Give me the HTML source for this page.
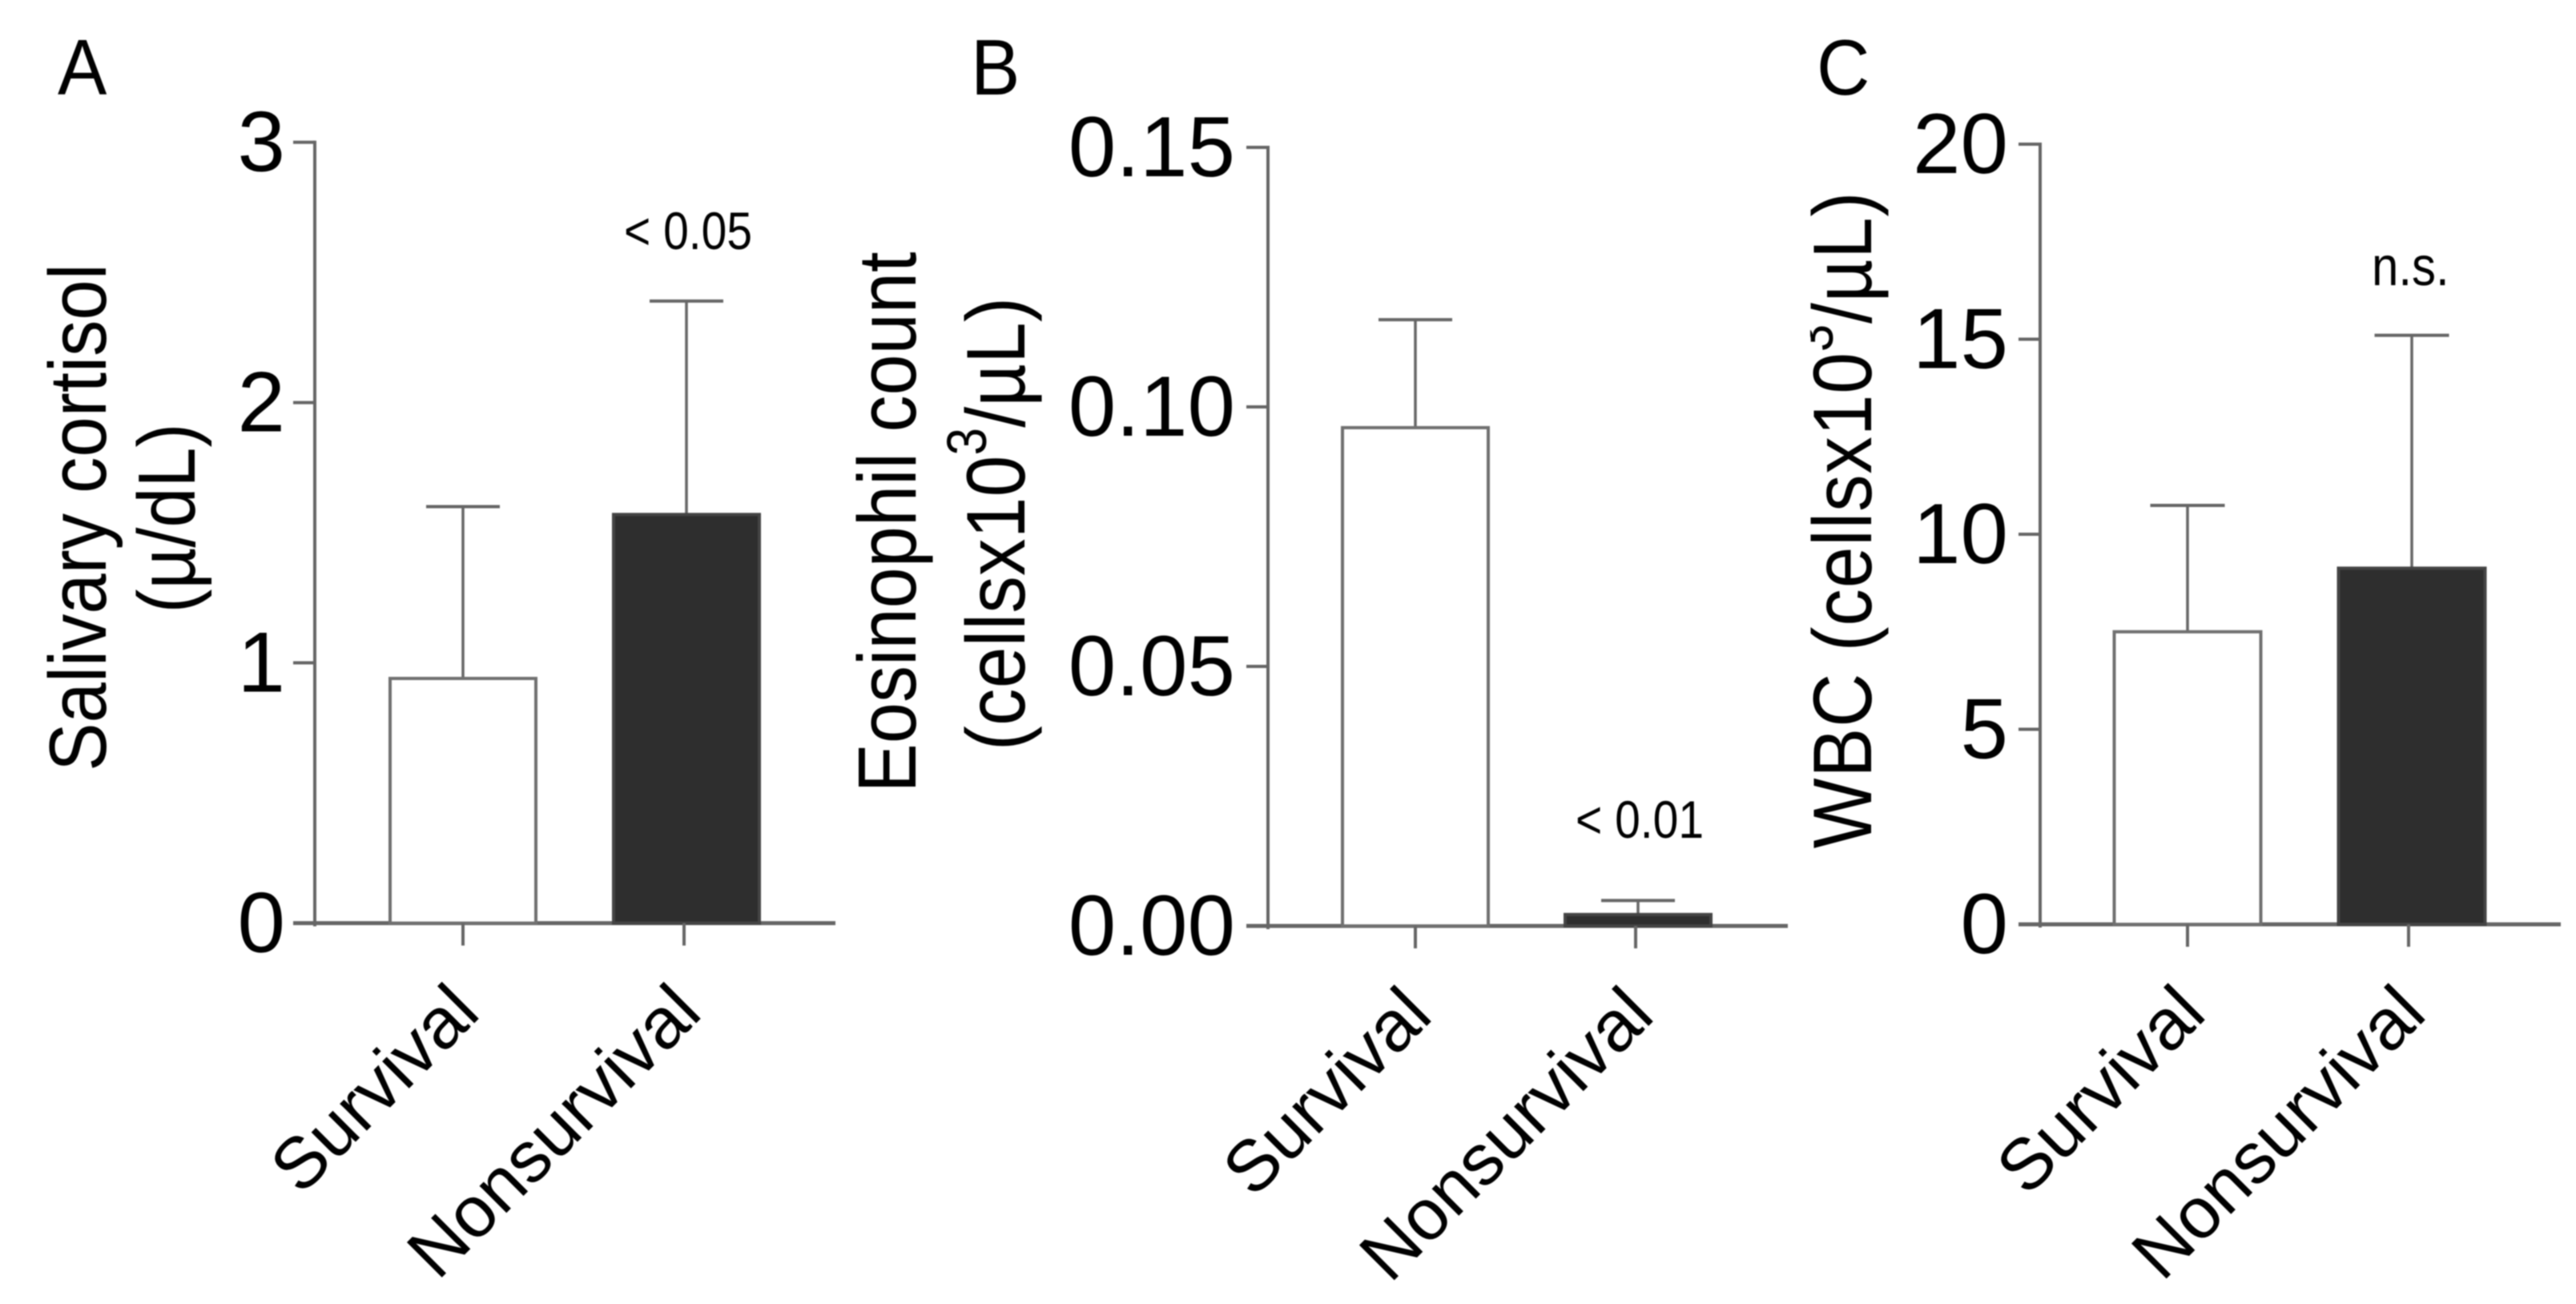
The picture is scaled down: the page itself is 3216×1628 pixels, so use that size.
<!DOCTYPE html>
<html lang="en">
<head>
<meta charset="utf-8">
<title>Salivary cortisol, eosinophil count and WBC by survival</title>
<style>
html,body{margin:0;padding:0;background:#fff;}
body{width:3216px;height:1628px;overflow:hidden;}
svg{display:block;filter:blur(0.9px);}
text{font-family:"Liberation Sans",Arial,sans-serif;fill:#000;}
</style>
</head>
<body>
<svg id="figure" xmlns="http://www.w3.org/2000/svg" width="3216" height="1628" viewBox="0 0 3216 1628"></svg>
<script>
// ---- data ----
const categories = ["Survival", "Nonsurvival"];

const cortisolMeans = [0.94, 1.57];
const cortisolErrors = [0.66, 0.82];
const cortisolTicks = ["0", "1", "2", "3"];
const cortisolMax = 3;

const eosinophilMeans = [0.096, 0.0022];
const eosinophilErrors = [0.0208, 0.0027];
const eosinophilTicks = ["0.00", "0.05", "0.10", "0.15"];
const eosinophilMax = 0.15;

const wbcMeans = [7.5, 9.13];
const wbcErrors = [3.24, 5.97];
const wbcTicks = ["0", "5", "10", "15", "20"];
const wbcMax = 20;

// ---- drawing ----
const NS = "http://www.w3.org/2000/svg";
const LINE = "#666";
const DARK = "#2e2e2e";
const svg = document.getElementById("figure");

function line(parent, name, x1, y1, x2, y2, width) {
  const el = document.createElementNS(NS, "line");
  el.setAttribute("x1", x1);
  el.setAttribute("y1", y1);
  el.setAttribute("x2", x2);
  el.setAttribute("y2", y2);
  el.setAttribute("stroke", LINE);
  el.setAttribute("stroke-width", width || 4);
  
  
  parent.appendChild(el);
  return el;
}

function label(parent, name, content, x, y, size, anchor, rotate, sx, sy, spacing) {
  const el = document.createElementNS(NS, "text");
  el.setAttribute("transform", "translate(" + x + "," + y + ") rotate(" + (rotate || 0) + ") scale(" + (sx || 1) + "," + (sy || 1) + ")");
  el.setAttribute("font-size", size);
  el.setAttribute("text-anchor", anchor || "start");
  if (spacing) el.setAttribute("letter-spacing", spacing);
  
  
  if (Array.isArray(content)) {
    const supShift = 43;
    el.appendChild(document.createTextNode(content[0]));
    const sup = document.createElementNS(NS, "tspan");
    sup.setAttribute("font-size", 62);
    sup.setAttribute("dy", -supShift);
    sup.textContent = content[1];
    el.appendChild(sup);
    const rest = document.createElementNS(NS, "tspan");
    rest.setAttribute("dy", supShift);
    rest.textContent = content[2];
    el.appendChild(rest);
  } else {
    el.textContent = content;
  }
  parent.appendChild(el);
  return el;
}

function drawPanel(cfg) {
  const g = document.createElementNS(NS, "g");
  
  
  svg.appendChild(g);

  const y = function (v) { return cfg.base - (v / cfg.max) * (cfg.base - cfg.top); };
  const x = function (i) { return cfg.center0 + i * cfg.step; };

  label(g, "panel-letter", cfg.letter, cfg.letterX, 118, 92, "start", 0, 1, 1.07);

  cfg.titles.forEach(function (t, i) {
    label(g, "y-axis-title-line-" + (i + 1), t.text, t.x, t.y, t.size, "middle", -90, 1, 1.12, t.spacing);
  });
  if (cfg.mask) {
    const m = document.createElementNS(NS, "rect");
    m.setAttribute("x", cfg.mask[0]);
    m.setAttribute("y", cfg.mask[1]);
    m.setAttribute("width", cfg.mask[2]);
    m.setAttribute("height", cfg.mask[3]);
    m.setAttribute("fill", "#fff");
    
    
    g.appendChild(m);
  }

  // axes
  line(g, "y-axis-line", cfg.axisX, cfg.top - 2, cfg.axisX, cfg.base + 4);
  line(g, "x-axis-line", cfg.axisX - 27, cfg.base, cfg.axisEnd, cfg.base, 5);

  // y ticks
  cfg.ticks.forEach(function (t) {
    const ty = y(parseFloat(t));
    line(g, "y-tick-" + t, cfg.axisX - 27, ty, cfg.axisX, ty);
    label(g, "y-tick-label-" + t, t, cfg.tickRight, ty + 36, 107, "end");
  });

  // bars
  categories.forEach(function (c, i) {
    const cx = x(i);
    const left = cx - cfg.barW / 2;
    const topY = y(cfg.means[i]);
    const errY = y(cfg.means[i] + cfg.errors[i]);
    const slug = c.toLowerCase();

    line(g, "error-stem-" + slug, cx, errY, cx, topY, 3.5);
    line(g, "error-cap-" + slug, cx - cfg.capW / 2, errY, cx + cfg.capW / 2, errY, 4);

    const bar = document.createElementNS(NS, "rect");
    bar.setAttribute("x", left);
    bar.setAttribute("y", topY);
    bar.setAttribute("width", cfg.barW);
    bar.setAttribute("height", cfg.base - topY);
    bar.setAttribute("fill", i === 0 ? "#fff" : DARK);
    bar.setAttribute("stroke", i === 0 ? "#707070" : "#444");
    bar.setAttribute("stroke-width", 4);
    
    
    g.appendChild(bar);

    const tickX = cx - (i === 0 ? 0 : cfg.tickNudge);
    line(g, "x-tick-" + slug, tickX, cfg.base, tickX, cfg.base + 28, 4);
    label(g, "x-tick-label-" + slug, c, cx + cfg.labelOffset[i], cfg.base + 115, 90, "end", -45);
  });

  // significance annotation
  label(g, "significance-note", cfg.note, cfg.noteX, cfg.noteY, cfg.noteSize || 57, "start", 0, 1, 1.15);
}

drawPanel({
  id: "panel-a-salivary-cortisol", letter: "A", letterX: 72,
  means: cortisolMeans, errors: cortisolErrors, ticks: cortisolTicks, max: cortisolMax,
  top: 177.6, base: 1152.5, axisX: 393, axisEnd: 1043, tickRight: 356,
  center0: 578, step: 279, barW: 182, capW: 92, tickNudge: 3, labelOffset: [24, 22],
  note: "< 0.05", noteX: 779, noteY: 311,
  titles: [
    { text: "Salivary cortisol", x: 132, y: 646, size: 90.5 },
    { text: "(\u00b5/dL)", x: 243, y: 647, size: 90 }
  ]
});

drawPanel({
  id: "panel-b-eosinophil-count", letter: "B", letterX: 1212,
  means: eosinophilMeans, errors: eosinophilErrors, ticks: eosinophilTicks, max: eosinophilMax,
  top: 184, base: 1156, axisX: 1583, axisEnd: 2232, tickRight: 1542,
  center0: 1767, step: 278, barW: 182, capW: 92, tickNudge: 3, labelOffset: [24, 23],
  note: "< 0.01", noteX: 1967, noteY: 1046,
  titles: [
    { text: "Eosinophil count", x: 1143, y: 652, size: 92 },
    { text: ["(cellsx10", "3", "/\u00b5L)"], x: 1279, y: 654, size: 93, spacing: 0.2 }
  ]
});

drawPanel({
  id: "panel-c-wbc", letter: "C", letterX: 2268,
  means: wbcMeans, errors: wbcErrors, ticks: wbcTicks, max: wbcMax,
  top: 180, base: 1154, axisX: 2547, axisEnd: 3197, tickRight: 2507,
  center0: 2731, step: 280, barW: 183, capW: 93, tickNudge: 4, labelOffset: [26, 21],
  note: "n.s.", noteX: 2961, noteY: 356, noteSize: 60,
  titles: [
    { text: ["WBC (cellsx10", "3", "/\u00b5L)"], x: 2336, y: 649, size: 93, spacing: 0.8 }
  ],
  mask: [2232, 388, 28, 62]
});
</script>
</body>
</html>
